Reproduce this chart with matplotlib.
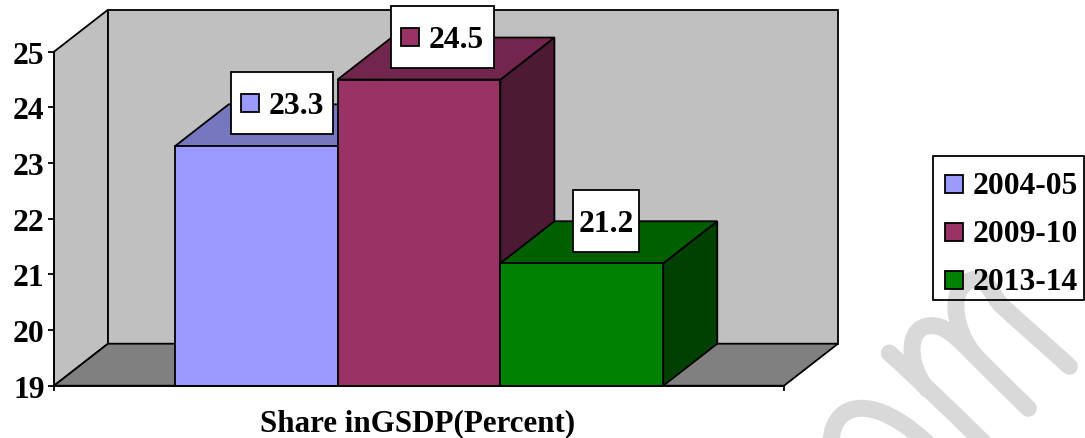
import matplotlib
matplotlib.use("Agg")
import matplotlib.pyplot as plt
from matplotlib.patches import Polygon, Rectangle, PathPatch
from matplotlib.path import Path

categories = ["2004-05", "2009-10", "2013-14"]
values = [23.3, 24.5, 21.2]
y_ticks = [19, 20, 21, 22, 23, 24, 25]
x_label = "Share inGSDP(Percent)"

front = ["#9999FF", "#993366", "#008000"]
top = ["#7777BF", "#72264D", "#006000"]
side = ["#4F4F80", "#4D1A33", "#004000"]
WALL, FLOOR, EDGE = "#C0C0C0", "#808080", "black"
W, H = 1085, 439
DX, DY = 54, 42
LW = 1.3
FS = 22.7
FONT = "Liberation Serif"

fig = plt.figure(figsize=(W / 100, H / 100), dpi=100, facecolor="white")
pix = fig.add_axes([0, 0, 1, 1], zorder=1)
pix.set_xlim(0, W); pix.set_ylim(H, 0); pix.axis("off")

ax = fig.add_axes([54 / W, (H - 386.7) / H, 730 / W, 334 / H], zorder=2)
ax.patch.set_visible(False)
ax.set_ylim(y_ticks[0], y_ticks[-1])
ax.set_xlim(-0.5 - 0.7415, 2.5 + 0.7415)
for s in ("top", "right"):
    ax.spines[s].set_visible(False)
ax.spines["left"].set_linewidth(LW); ax.spines["bottom"].set_linewidth(LW)
ax.set_yticks(y_ticks)
ax.tick_params(axis="y", length=4.3, width=LW, pad=2.5)
ax.set_xticks([-0.5 - 0.7415, 2.5 + 0.7415]); ax.set_xticklabels([])
ax.tick_params(axis="x", length=3.6, width=LW)
for t in ax.get_yticklabels():
    t.set_fontfamily(FONT); t.set_fontweight("bold"); t.set_fontsize(FS)
xmin, xmax = ax.get_xlim()
ymin, ymax = ax.get_ylim()


def P(x, y, d=0):
    """Chart coordinates at depth d (0 front, 1 back) to pixel coordinates."""
    dx, dy = ax.transData.transform((x, y))
    px, py = pix.transData.inverted().transform((dx, dy))
    return (px + d * DX, py - d * DY)


def poly(verts, color, z=3):
    pix.add_patch(Polygon(verts, closed=True, facecolor=color, edgecolor=EDGE,
                          linewidth=LW, joinstyle="miter", zorder=z))


# watermark behind the chart
def stroke(points):
    codes = [Path.MOVETO] + [Path.CURVE4] * (len(points) - 1)
    pix.add_patch(PathPatch(Path(points, codes), facecolor="none", edgecolor="#D9D9D9",
                            linewidth=12.2, capstyle="round", zorder=1))


def z(x, y):
    return (780 + x / 3, 250 + y / 3)


stroke([z(328, 312), z(430, 405), z(530, 500), z(640, 610)])
stroke([z(440, 419), z(385, 350), z(375, 235), z(450, 230),
        z(490, 228), z(520, 255), z(560, 295),
        z(620, 355), z(680, 415), z(745, 478)])
stroke([z(590, 325), z(520, 250), z(495, 100), z(590, 90),
        z(620, 90), z(640, 140), z(660, 165),
        z(730, 230), z(800, 290), z(868, 352)])
stroke([z(160, 640), z(120, 470), z(260, 390), z(480, 620)])

# walls and floor
poly([P(xmin, ymin), P(xmin, ymax), P(xmin, ymax, 1), P(xmin, ymin, 1)], WALL, 2)
poly([P(xmin, ymin, 1), P(xmin, ymax, 1), P(xmax, ymax, 1), P(xmax, ymin, 1)], WALL, 2)
poly([P(xmin, ymin), P(xmin, ymin, 1), P(xmax, ymin, 1), P(xmax, ymin)], FLOOR, 2)

# bars
for i, v in enumerate(values):
    l, r = i - 0.5, i + 0.5
    b = ymin
    poly([P(r, b), P(r, v), P(r, v, 1), P(r, b, 1)], side[i])
    poly([P(l, v), P(l, v, 1), P(r, v, 1), P(r, v)], top[i])
    poly([P(l, b), P(l, v), P(r, v), P(r, b)], front[i])


def swatch(x, y, color, size=18):
    pix.add_patch(Rectangle((x, y), size, size, facecolor=color, edgecolor=EDGE,
                            linewidth=LW, zorder=6))


def label(x, y, s, ha="left"):
    pix.text(x, y, s, family=FONT, weight="bold", fontsize=FS, color="black",
             ha=ha, va="center", zorder=7)


# data labels
boxes = [(231, 73, 102, 62), (391, 7, 103, 62), (573, 191, 66, 62)]
for i, (v, bx) in enumerate(zip(values, boxes)):
    pix.add_patch(Rectangle(bx[:2], bx[2], bx[3], facecolor="white", edgecolor=EDGE,
                            linewidth=LW, zorder=5))
    cy = bx[1] + bx[3] / 2
    if i < 2:
        swatch(bx[0] + 10, cy - 9, front[i])
        label(bx[0] + 38, cy + 3, f"{v}")
    else:
        label(bx[0] + bx[2] / 2, cy + 3, f"{v}", ha="center")

# legend
pix.add_patch(Rectangle((933, 157), 151, 144, facecolor="none", edgecolor=EDGE,
                        linewidth=LW, zorder=5))
for i, c in enumerate(categories):
    cy = 185 + i * 48
    swatch(945, cy - 9.5, front[i])
    label(973, cy + 2, c)

pix.text(418, 423.5, x_label, family=FONT, weight="bold", fontsize=22.3, color="black",
         ha="center", va="center", zorder=7)

fig.savefig("out.png", dpi=100, facecolor="white")
